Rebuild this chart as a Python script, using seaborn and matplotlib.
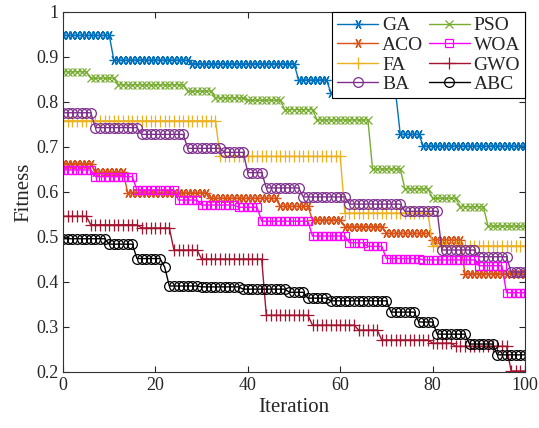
import numpy as np
import pandas as pd
import matplotlib
matplotlib.use("Agg")
import matplotlib.pyplot as plt
import seaborn as sns

# convergence curves, stored as (start iteration, fitness level) steps
iters = np.arange(0, 101)

ga_start = [0, 11, 28, 51, 58, 73, 78]
ga_level = [0.948, 0.893, 0.885, 0.849, 0.821, 0.728, 0.702]

aco_start = [0, 7, 14, 32, 47, 54, 61, 70, 80, 87]
aco_level = [0.663, 0.644, 0.598, 0.586, 0.568, 0.538, 0.523, 0.508, 0.493, 0.418]

fa_start = [0, 34, 61, 80]
fa_level = [0.758, 0.679, 0.553, 0.480]

ba_start = [0, 7, 17, 27, 35, 40, 44, 52, 62, 74, 82, 90, 97]
ba_level = [0.776, 0.743, 0.728, 0.697, 0.688, 0.643, 0.609, 0.589, 0.573, 0.557, 0.471, 0.456, 0.422]

pso_start = [0, 6, 12, 27, 33, 40, 48, 55, 67, 74, 80, 86, 92]
pso_level = [0.867, 0.853, 0.838, 0.824, 0.809, 0.804, 0.783, 0.760, 0.651, 0.607, 0.586, 0.567, 0.524]

woa_start = [0, 7, 16, 25, 30, 38, 43, 54, 62, 66, 70, 78, 90, 96]
woa_level = [0.649, 0.634, 0.604, 0.582, 0.571, 0.566, 0.535, 0.502, 0.487, 0.479, 0.452, 0.449, 0.436, 0.376]

gwo_start = [0, 6, 17, 24, 30, 44, 54, 64, 69, 80, 85, 97]
gwo_level = [0.546, 0.527, 0.520, 0.471, 0.451, 0.326, 0.304, 0.293, 0.271, 0.264, 0.257, 0.202]

abc_start = [0, 10, 16, 22, 23, 30, 39, 49, 53, 58, 71, 77, 81, 88, 94]
abc_level = [0.496, 0.484, 0.452, 0.433, 0.391, 0.389, 0.384, 0.377, 0.364, 0.358, 0.333, 0.311, 0.284, 0.262, 0.238]


def steps(start, level):
    idx = np.searchsorted(start, iters, side="right") - 1
    return np.array(level)[idx]


series = [
    ("GA", ga_start, ga_level),
    ("ACO", aco_start, aco_level),
    ("FA", fa_start, fa_level),
    ("BA", ba_start, ba_level),
    ("PSO", pso_start, pso_level),
    ("WOA", woa_start, woa_level),
    ("GWO", gwo_start, gwo_level),
    ("ABC", abc_start, abc_level),
]

# MATLAB-ish colours and markers
styles = {
    "GA": dict(color=(0, 0.447, 0.741), marker=(6, 2, 90), ms=7),
    "ACO": dict(color=(0.85, 0.325, 0.098), marker=(6, 2, 90), ms=7),
    "FA": dict(color=(0.929, 0.694, 0.125), marker="+", ms=9),
    "BA": dict(color=(0.494, 0.184, 0.556), marker="o", ms=7),
    "PSO": dict(color=(0.466, 0.674, 0.188), marker="x", ms=6),
    "WOA": dict(color=(1, 0, 1), marker="s", ms=5.5),
    "GWO": dict(color=(0.635, 0.078, 0.184), marker="+", ms=9),
    "ABC": dict(color=(0, 0, 0), marker="o", ms=7),
}

frames = []
for name, s, l in series:
    frames.append(pd.DataFrame({"Iteration": iters, "Fitness": steps(s, l), "alg": name}))
df = pd.concat(frames, ignore_index=True)

sns.set_style("ticks")
plt.rcParams["font.family"] = ["Liberation Serif", "DejaVu Serif"]

fig = plt.figure(figsize=(5.39, 4.28), dpi=100)
ax = fig.add_axes([0.117, 0.131, 0.857, 0.841])

for name, _, _ in series:
    sub = df[df["alg"] == name]
    st = styles[name]
    sns.lineplot(data=sub, x="Iteration", y="Fitness", ax=ax, label=name,
                 color=st["color"], linewidth=1.0, estimator=None)
    line = ax.lines[-1]
    line.set_marker(st["marker"])
    line.set_markersize(st["ms"])
    line.set_markeredgecolor(st["color"])
    line.set_markerfacecolor("none")
    line.set_markeredgewidth(0.9)

ax.set_xlim(0, 100)
ax.set_ylim(0.2, 1.0)
ax.set_xticks(np.arange(0, 101, 20))
ax.set_yticks(np.arange(0.2, 1.01, 0.1))
ax.yaxis.set_major_formatter(matplotlib.ticker.FormatStrFormatter("%g"))
ax.tick_params(direction="in", top=True, right=True, labelsize=13, length=4, width=0.8)
for sp in ax.spines.values():
    sp.set_linewidth(0.8)
    sp.set_color("#333333")
ax.set_xlabel("Iteration", fontsize=15, labelpad=3)
ax.set_ylabel("Fitness", fontsize=15, labelpad=2)

leg = ax.legend(ncol=2, loc="upper right", fontsize=14, frameon=True, fancybox=False,
                edgecolor="black", borderaxespad=0.0, handlelength=2.1,
                columnspacing=0.3, handletextpad=0.2, labelspacing=0.1,
                borderpad=0.25)
leg.get_frame().set_linewidth(0.8)
leg.get_frame().set_alpha(1)

fig.savefig("out.png", dpi=100)
